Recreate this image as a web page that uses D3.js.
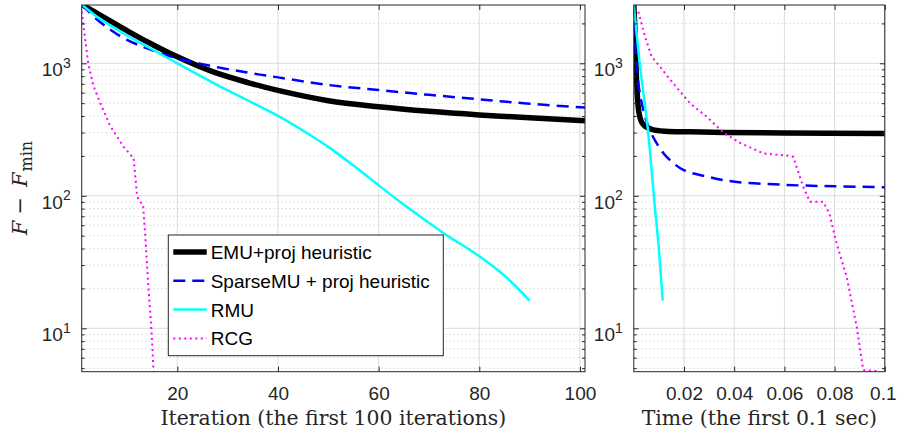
<!DOCTYPE html>
<html>
<head>
<meta charset="utf-8">
<script src="https://cdn.jsdelivr.net/npm/d3@7"></script>
<style>
body{margin:0;background:#fff}
svg{display:block}
</style>
</head>
<body>
<div id="chart"></div>
<script>
var width = 897;
var height = 432;

// left panel: value vs iteration
var emuIter = [[1,2780],[4,2388],[7,2051],[10,1766],[14,1455],[20,1119],[27,865],[34,716],[40,624],[50,522],[60,470],[70,434],[80,408],[90,388],[101,368]];
var sparseIter = [[1,2780],[4,2150],[7,1760],[10,1500],[14,1297],[20,1091],[27,950],[34,850],[40,783],[50,686],[60,628],[70,578],[80,535],[90,495],[101,464]];
var rmuIter = [[1,2780],[4,2250],[7,1900],[10,1620],[14,1335],[20,1000],[27,716],[34,525],[40,401],[45,310],[50,234],[55,169],[60,120],[66,80.4],[73,52],[80,35],[85,25],[90,16.2]];
var rcgIter = [[1,2450],[1.7,1500],[2.3,1000],[3.3,680],[4.6,510],[6.6,340],[9.3,235],[10.9,200],[11.3,195],[12,100],[12.3,93],[13.2,85],[13.6,52],[14.2,22],[14.9,9.2],[15.3,4.5]];

// right panel: value vs time (sec)
var emuTime = [[0,2780],[0.0005,1700],[0.0011,750],[0.002,430],[0.0031,360],[0.0045,335],[0.0075,316],[0.0125,307],[0.0224,304],[0.036,300],[0.06,298],[0.1,295]];
var sparseTime = [[0,2780],[0.0005,1500],[0.0018,706],[0.0038,444],[0.0058,333],[0.0088,255],[0.0131,197],[0.0197,157],[0.029,140],[0.0396,128],[0.06,121],[0.08,118],[0.1,116]];
var rmuTime = [[0,2780],[0.0025,943],[0.0055,330],[0.0084,82],[0.0098,43.7],[0.0115,16.2]];
var rcgTime = [[0.0018,2450],[0.0045,1585],[0.0071,1122],[0.0104,943],[0.0157,706],[0.0224,499],[0.029,396],[0.0357,300],[0.0423,251],[0.0516,209],[0.0622,200],[0.0635,197],[0.0675,117],[0.0702,90],[0.0755,90],[0.0779,73.8],[0.0808,43.7],[0.0848,24.5],[0.0888,10.3],[0.0914,4.84],[0.0968,4.75]];

var iterTicks = [20,40,60,80,100];
var timeTicks = [0.02,0.04,0.06,0.08,0.1];
var timeTickLabels = ["0.02","0.04","0.06","0.08","0.1"];
var yTicks = [10,100,1000];
var legendNames = ["EMU+proj heuristic","SparseMU + proj heuristic","RMU","RCG"];

var yDomain = [4.704, 2754];
var plotTop = 5, plotBottom = 371.7;
var axisColor = "#262626";
var sansFont = "'Liberation Sans', Arial, Helvetica, sans-serif";
var serifFont = "'DejaVu Serif', serif";
var smooth = d3.curveCatmullRom.alpha(0.5);

var styles = [
	{color:"#000000", width:5.5, dash:null, curve:smooth},
	{color:"#0000ff", width:2.5, dash:"12,7", curve:smooth},
	{color:"#00ffff", width:2.5, dash:null, curve:smooth},
	{color:"#ff00ff", width:2, dash:"2,3.5", curve:d3.curveLinear}
];

var svg = d3.select("#chart").append("svg").attr("width",width).attr("height",height)
	.style("font-family",sansFont);

function drawPanel(id, left, right, xDomain, xTicks, xFormat, series, xlabel){
	var x = d3.scaleLinear().domain(xDomain).range([left,right]);
	var y = d3.scaleLog().domain(yDomain).range([plotBottom,plotTop]);
	var g = svg.append("g").attr("class",id);

	// minor grid (dotted)
	var minor = [];
	[1,10,100,1000].forEach(function(p){
		for (var m=2;m<=9;m++){
			var v = m*p;
			if (v>yDomain[0] && v<yDomain[1]) minor.push(v);
		}
	});
	g.append("g").selectAll("line").data(minor).enter().append("line")
		.attr("x1",left).attr("x2",right)
		.attr("y1",function(d){return y(d);}).attr("y2",function(d){return y(d);})
		.attr("stroke","#c4c4c4").attr("stroke-width",1).attr("stroke-dasharray","1,3");
	// major grid
	g.append("g").selectAll("line").data(yTicks).enter().append("line")
		.attr("x1",left).attr("x2",right)
		.attr("y1",function(d){return y(d);}).attr("y2",function(d){return y(d);})
		.attr("stroke","#dcdcdc").attr("stroke-width",1);
	g.append("g").selectAll("line").data(xTicks).enter().append("line")
		.attr("x1",function(d){return x(d);}).attr("x2",function(d){return x(d);})
		.attr("y1",plotTop).attr("y2",plotBottom)
		.attr("stroke","#dcdcdc").attr("stroke-width",1);

	// clip
	svg.append("clipPath").attr("id","clip-"+id).append("rect")
		.attr("x",left).attr("y",plotTop).attr("width",right-left).attr("height",plotBottom-plotTop);

	var line = d3.line().x(function(d){return x(d[0]);}).y(function(d){return y(d[1]);});
	var lines = g.append("g").attr("clip-path","url(#clip-"+id+")");
	series.forEach(function(s,i){
		var st = styles[i];
		lines.append("path").datum(s)
			.attr("fill","none")
			.attr("stroke",st.color)
			.attr("stroke-width",st.width)
			.attr("stroke-dasharray",st.dash)
			.attr("d",line.curve(st.curve));
	});

	// frame
	g.append("rect").attr("x",left).attr("y",plotTop).attr("width",right-left).attr("height",plotBottom-plotTop)
		.attr("fill","none").attr("stroke",axisColor).attr("stroke-width",1);

	// x axes
	var xb = g.append("g").attr("transform","translate(0,"+plotBottom+")")
		.call(d3.axisBottom(x).tickValues(xTicks).tickSizeInner(-5).tickSizeOuter(0).tickPadding(15).tickFormat(xFormat));
	var xt = g.append("g").attr("transform","translate(0,"+plotTop+")")
		.call(d3.axisTop(x).tickValues(xTicks).tickSizeInner(-5).tickSizeOuter(0).tickFormat(""));
	// y axes
	var yl = g.append("g").attr("transform","translate("+left+",0)")
		.call(d3.axisLeft(y).tickValues(yTicks).tickSizeInner(-5).tickSizeOuter(0).tickPadding(11).tickFormat(""));
	var yr = g.append("g").attr("transform","translate("+right+",0)")
		.call(d3.axisRight(y).tickValues(yTicks).tickSizeInner(-5).tickSizeOuter(0).tickFormat(""));
	var yml = g.append("g").attr("transform","translate("+left+",0)")
		.call(d3.axisLeft(y).tickValues(minor).tickSizeInner(-3).tickSizeOuter(0).tickFormat(""));
	var ymr = g.append("g").attr("transform","translate("+right+",0)")
		.call(d3.axisRight(y).tickValues(minor).tickSizeInner(-3).tickSizeOuter(0).tickFormat(""));

	[xb,xt,yl,yr,yml,ymr].forEach(function(a){
		a.attr("font-family",sansFont).attr("font-size",19);
		a.select(".domain").remove();
		a.selectAll(".tick line").attr("stroke",axisColor);
	});
	xb.selectAll(".tick text").attr("fill",axisColor)
		.attr("dx",function(d){return d===xDomain[1] ? -2 : 0;});

	yl.selectAll(".tick text").each(function(d){
		var t = d3.select(this).attr("fill",axisColor).attr("dy","0.66em");
		t.append("tspan").text("10");
		t.append("tspan").attr("dy",-8.5).attr("font-size",14).text(Math.round(Math.log10(d)));
	});

	g.append("text")
		.attr("x",(left+right)/2).attr("y",425)
		.attr("text-anchor","middle")
		.attr("font-family",serifFont)
		.attr("font-size",20.4)
		.attr("fill",axisColor)
		.text(xlabel);

	return {x:x,y:y,g:g};
}

var L = drawPanel("iter", 81.7, 585, [1,101], iterTicks, function(d){return d;},
	[emuIter,sparseIter,rmuIter,rcgIter], "Iteration (the first 100 iterations)");
var R = drawPanel("time", 633.8, 884.8, [0,0.1], timeTicks, function(d,i){return timeTickLabels[i];},
	[emuTime,sparseTime,rmuTime,rcgTime], "Time (the first 0.1 sec)");

// y label
var ylab = svg.append("text")
	.attr("transform","translate(27,188) rotate(-90)")
	.attr("text-anchor","middle")
	.attr("font-family",serifFont)
	.attr("font-size",21)
	.attr("fill",axisColor);
ylab.append("tspan").attr("font-style","italic").text("F");
ylab.append("tspan").attr("dx",6).text("\u2212");
ylab.append("tspan").attr("dx",10).attr("font-style","italic").text("F");
ylab.append("tspan").attr("dx",1).attr("dy",5).attr("font-size",16).text("min");

// legend
var legend = svg.append("g").attr("class","legend");
legend.append("rect").attr("x",168.3).attr("y",235).attr("width",275).attr("height",120.7)
	.attr("fill","#fff").attr("stroke",axisColor).attr("stroke-width",1);
var rows = legend.selectAll("g.row").data(legendNames).enter().append("g")
	.attr("transform",function(d,i){return "translate(0,"+(252+i*28.8)+")";});
rows.append("line").attr("x1",173.3).attr("x2",206.7).attr("y1",0).attr("y2",0)
	.attr("stroke",function(d,i){return styles[i].color;})
	.attr("stroke-width",function(d,i){return styles[i].width;})
	.attr("stroke-dasharray",function(d,i){return styles[i].dash;});
rows.append("text").attr("x",210.7).attr("y",7).attr("font-size",19).attr("fill","#000")
	.attr("font-family",sansFont)
	.text(function(d){return d;});
</script>
</body>
</html>
